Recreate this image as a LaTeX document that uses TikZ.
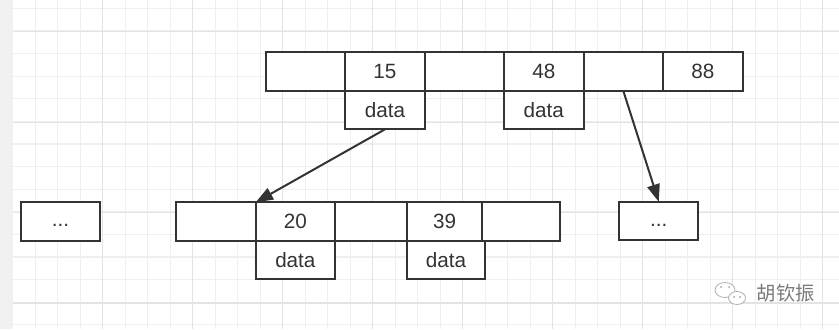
\documentclass[tikz,border=0pt]{standalone}
\usepackage{fontspec}
\setmainfont{Liberation Sans}
\newfontfamily\cjkfont{Noto Sans CJK SC}
\usepackage{xcolor}
\usetikzlibrary{arrows.meta,positioning}

\definecolor{boxgray}{HTML}{333333}
\definecolor{gridminor}{HTML}{EFEFEF}
\definecolor{gridmajor}{HTML}{E3E3E3}
\definecolor{bandgray}{HTML}{F0F0F0}
\definecolor{markgray}{HTML}{7A7A7A}

\begin{document}
\begin{tikzpicture}[
    x=0.75pt, y=-0.75pt,
    node distance=0pt,
    cell/.style={rectangle, draw=boxgray, line width=1.5pt, fill=white, minimum width=59.6pt, minimum height=28.9pt, inner sep=0pt, outer sep=0pt, text=boxgray, font=\fontsize{15.5}{18}\selectfont},
    arrow/.style={-{Triangle[length=13pt, width=9.5pt]}, line width=1.5pt, draw=boxgray},
    wmtext/.style={text=markgray, font=\cjkfont\fontsize{14.5}{16}\selectfont}
  ]
  \useasboundingbox (0,0) rectangle (839,329);

  % Grid background
  \fill[white] (0,0) rectangle (839,329);
  \foreach \gx in {0,...,36} {
    \draw[gridminor, line width=0.9pt] (12.7+22.5*\gx,0) -- (12.7+22.5*\gx,329);
  }
  \foreach \gy in {0,...,14} {
    \draw[gridminor, line width=0.9pt] (12.7,8.3+22.6*\gy) -- (839,8.3+22.6*\gy);
  }
  \foreach \gx in {0,...,9} {
    \draw[gridmajor, line width=0.9pt] (12.7+90*\gx,0) -- (12.7+90*\gx,329);
  }
  \foreach \gy in {0,...,3} {
    \draw[gridmajor, line width=0.9pt] (12.7,31.7+90.4*\gy) -- (839,31.7+90.4*\gy);
  }
  \fill[bandgray] (0,0) rectangle (12.7,329);

  % Root node
  \node[cell, anchor=north west] (t1) at (265.7,52.3) {};
  \node[cell, right=of t1] (t2) {15};
  \node[cell, right=of t2] (t3) {};
  \node[cell, right=of t3] (t4) {48};
  \node[cell, right=of t4] (t5) {};
  \node[cell, right=of t5] (t6) {88};
  \node[cell, below=of t2] (d15) {data};
  \node[cell, below=of t4] (d48) {data};

  % Child nodes
  \node[cell, anchor=north west] (dotsl) at (20.7,202.3) {\raisebox{-4pt}[0pt][0pt]{...}};
  \node[cell, anchor=north west, minimum width=60pt] (b1) at (175.7,202.3) {};
  \node[cell, right=of b1, minimum width=59.5pt] (b2) {20};
  \node[cell, right=of b2, minimum width=53.8pt] (b3) {};
  \node[cell, right=of b3, minimum width=56.7pt] (b4) {39};
  \node[cell, right=of b4, minimum width=58.3pt] (b5) {};
  \node[cell, below=of b2] (d20) {data};
  \node[cell, anchor=north west, minimum width=58.7pt] (d39) at (b4.south west) {data};
  \node[cell, anchor=north west] (dotsr) at (619,201.7) {\raisebox{-4pt}[0pt][0pt]{...}};

  % Arrows
  \draw[arrow] (d15.south) -- (b2.north west);
  \draw[arrow] (t5.south) -- (dotsr.north);

  % Watermark
  \node[wmtext, anchor=west] (wm) at (752,293.5) {胡钦振};
  \draw[markgray!60, line width=0.6pt, fill=white] (725,290) ellipse [x radius=10, y radius=7.5];
  \draw[markgray!60, line width=0.6pt, fill=white] (737,298) ellipse [x radius=8.5, y radius=6.5];
  \foreach \ex/\ey in {721/287, 729/287, 734/297, 740/297} {
    \fill[markgray!70] (\ex,\ey) circle [radius=1];
  }
\end{tikzpicture}
\end{document}
